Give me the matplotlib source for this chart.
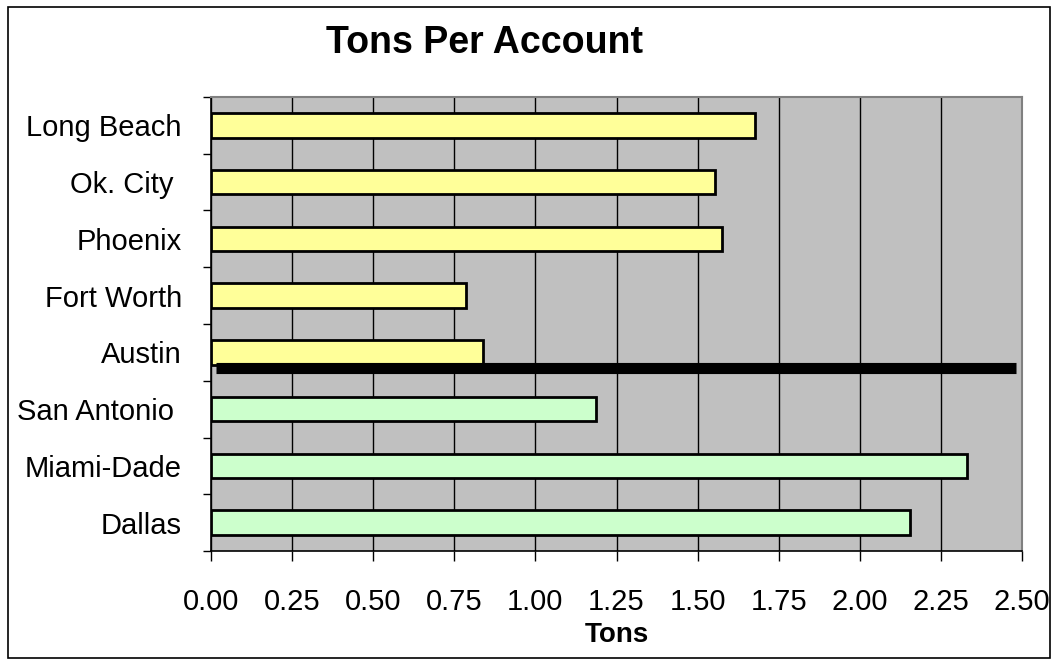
import matplotlib
matplotlib.use("Agg")
import matplotlib.pyplot as plt
from matplotlib.patches import Rectangle

plt.rcParams['font.family'] = ['Liberation Sans', 'DejaVu Sans']

# Data (bottom to top)
cities = ["Dallas", "Miami-Dade", "San Antonio ", "Austin", "Fort Worth",
          "Phoenix", "Ok. City ", "Long Beach"]
tons = [2.155, 2.33, 1.188, 0.84, 0.785, 1.576, 1.555, 1.678]
colors = ["#CCFFCC", "#CCFFCC", "#CCFFCC", "#FFFF99", "#FFFF99",
          "#FFFF99", "#FFFF99", "#FFFF99"]
xticks = [0.00, 0.25, 0.50, 0.75, 1.00, 1.25, 1.50, 1.75, 2.00, 2.25, 2.50]
divider_y = 2.72
divider_x = [0.015, 2.48]

fig = plt.figure(figsize=(10.58, 6.65), dpi=100)
ax = fig.add_axes([211/1058, 1-551/665, (1022-211)/1058, (551-97)/665])
ax.set_facecolor("#C0C0C0")

ypos = list(range(len(cities)))
ax.barh(ypos, tons, height=0.43, color=colors, edgecolor="black",
        linewidth=2.0, zorder=3)

# thick divider line
ax.plot(divider_x, [divider_y, divider_y], color="black", linewidth=8,
        solid_capstyle="butt", zorder=4)

ax.set_xlim(0, 2.5)
ax.set_ylim(-0.5, len(cities) - 0.5)
ax.set_xticks(xticks)
ax.set_xticklabels([f"{v:.2f}" for v in xticks], fontsize=21)
ax.xaxis.grid(True, color="black", linewidth=1.0, zorder=1)
ax.set_axisbelow(True)

# y: labels at centers, ticks at boundaries
ax.set_yticks(ypos)
ax.set_yticklabels(cities, fontsize=21)
ax.tick_params(axis="y", which="major", length=0, pad=21)
ax.set_yticks([i - 0.5 for i in range(len(cities) + 1)], minor=True)
ax.tick_params(axis="y", which="minor", length=6, width=1, color="black",
               direction="out")
ax.tick_params(axis="x", length=7, width=1, direction="out", pad=20)

for s in ["top", "right"]:
    ax.spines[s].set_color("#808080")
    ax.spines[s].set_linewidth(1.5)
for s in ["left", "bottom"]:
    ax.spines[s].set_color("black")
    ax.spines[s].set_linewidth(1.2)

ax.set_xlabel("Tons", fontsize=20, fontweight="bold", labelpad=4)

fig.text(485/1058, 1-43/665, "Tons Per Account", fontsize=27,
         fontweight="bold", ha="center", va="center")

# figure border
fig.patches.append(Rectangle((8/1058, 1-658/665), (1050-8)/1058, (658-7)/665,
                             transform=fig.transFigure, fill=False,
                             edgecolor="black", linewidth=1.2))

fig.savefig("out.png", dpi=100)
